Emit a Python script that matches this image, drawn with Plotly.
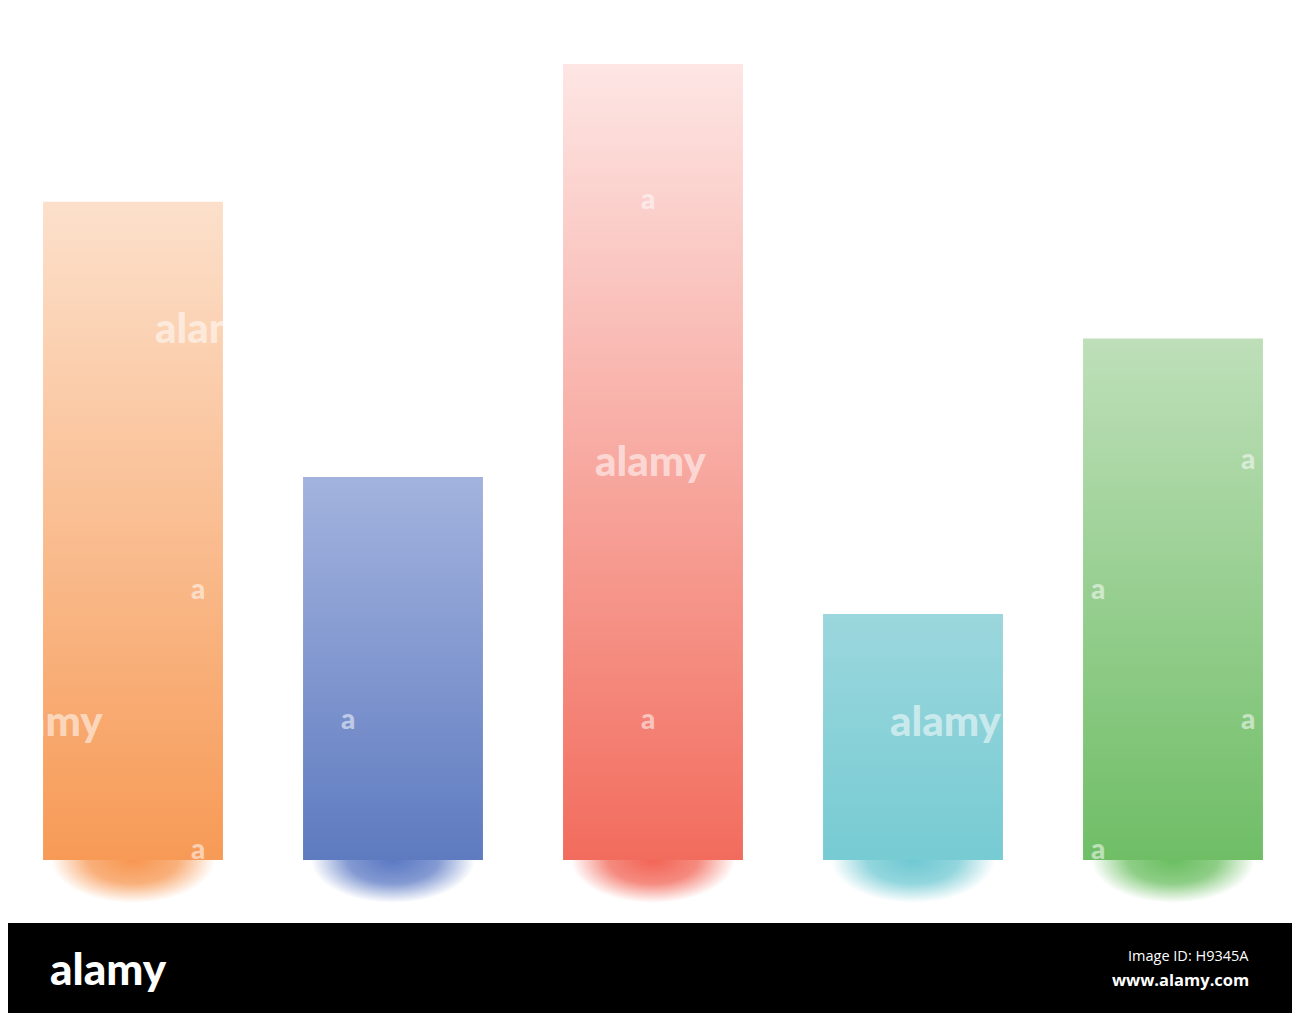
import numpy as np
import plotly.graph_objects as go

# ---- data ----
categories = ["A", "B", "C", "D", "E"]
values = [82.7, 48.1, 100.0, 30.9, 65.5]
top_colors = ["#FCE0CB", "#A3B3DE", "#FDE6E4", "#9BD7DD", "#BEDFB9"]
bottom_colors = ["#F79A56", "#5E7BC0", "#F26C5D", "#77CBD3", "#6FBE66"]
shadow_colors = ["247,150,80", "90,120,195", "242,100,85", "110,200,210", "105,190,95"]

OFF = 8  # page body margin
W, H = 1300 - OFF, 1013 - OFF
BAR_HALF = 0.346
fig = go.Figure()

# shadows (drawn first so bars cover the upper half)
t = np.linspace(0, 2 * np.pi, 160)
for i, c in enumerate(shadow_colors):
    ex = i + 0.315 * np.cos(t)
    ey = 0 + 5.4 * np.sin(t)
    fig.add_trace(go.Scatter(
        x=ex, y=ey, mode="lines", fill="toself", line=dict(width=0, color="rgba(0,0,0,0)"),
        fillgradient=dict(type="radial", colorscale=[[0, f"rgba({c},1)"], [0.55, f"rgba({c},0.75)"],
                                                      [0.85, f"rgba({c},0.25)"], [1, f"rgba({c},0)"]]),
        hoverinfo="skip", showlegend=False))

# bars with vertical gradient
for i, v in enumerate(values):
    bx = [i - BAR_HALF, i + BAR_HALF, i + BAR_HALF, i - BAR_HALF, i - BAR_HALF]
    by = [0, 0, v, v, 0]
    fig.add_trace(go.Scatter(
        x=bx, y=by, mode="lines", fill="toself", line=dict(width=0, color="rgba(0,0,0,0)"),
        fillgradient=dict(type="vertical", colorscale=[[0, bottom_colors[i]], [1, top_colors[i]]]),
        name=categories[i], showlegend=False))

x0 = -(133 - OFF) / 260
x_range = [x0, x0 + W / 260]
ppu = 796 / 100.0
base = 860 - OFF
y_range = [-(H - base) / ppu, base / ppu]

band_top = 923 - OFF
shapes = [dict(type="rect", xref="paper", yref="paper", x0=0, x1=1, y0=0, y1=(H - band_top) / H,
               fillcolor="black", line=dict(width=0), layer="above")]

def px_(x):
    return (x - OFF) / W

def py_(y):
    return 1 - (y - OFF) / H

NARROW = "Lato, Roboto, sans-serif"
wm_font = dict(family=NARROW, color="rgba(255,255,255,0.55)", weight=900)
annotations = []
# watermarks
for (xx, yy, txt, sz, anc) in [(650, 460, "alamy", 42, "center"), (945, 720, "alamy", 42, "center"),
                                (153, 327, "alam", 42, "left"), (105, 720, "amy", 42, "right"),
                                (648, 198, "a", 28, "center"), (198, 588, "a", 28, "center"),
                                (348, 718, "a", 28, "center"), (648, 718, "a", 28, "center"),
                                (198, 848, "a", 28, "center"), (1098, 588, "a", 28, "center"),
                                (1248, 458, "a", 28, "center"), (1248, 718, "a", 28, "center"),
                                (1098, 848, "a", 28, "center")]:
    annotations.append(dict(xref="paper", yref="paper", x=px_(xx), y=py_(yy), text=txt,
                            showarrow=False, xanchor=anc, yanchor="middle",
                            font=dict(size=sz, **wm_font)))
# bottom band text
annotations.append(dict(xref="paper", yref="paper", x=px_(48), y=py_(968), text="alamy",
                        showarrow=False, xanchor="left", yanchor="middle",
                        font=dict(family=NARROW, size=44, color="white", weight=900)))
annotations.append(dict(xref="paper", yref="paper", x=px_(1251), y=py_(955), text="Image ID: H9345A",
                        showarrow=False, xanchor="right", yanchor="middle",
                        font=dict(family="Open Sans, sans-serif", size=14.5, color="white")))
annotations.append(dict(xref="paper", yref="paper", x=px_(1251), y=py_(979), text="<b>www.alamy.com</b>",
                        showarrow=False, xanchor="right", yanchor="middle",
                        font=dict(family="Open Sans, sans-serif", size=16.5, color="white")))

fig.update_layout(
    width=W, height=H, margin=dict(l=0, r=0, t=0, b=0),
    paper_bgcolor="white", plot_bgcolor="white",
    xaxis=dict(range=x_range, visible=False, fixedrange=True),
    yaxis=dict(range=y_range, visible=False, fixedrange=True),
    shapes=shapes, annotations=annotations, showlegend=False,
)
fig.write_html("out.html")
